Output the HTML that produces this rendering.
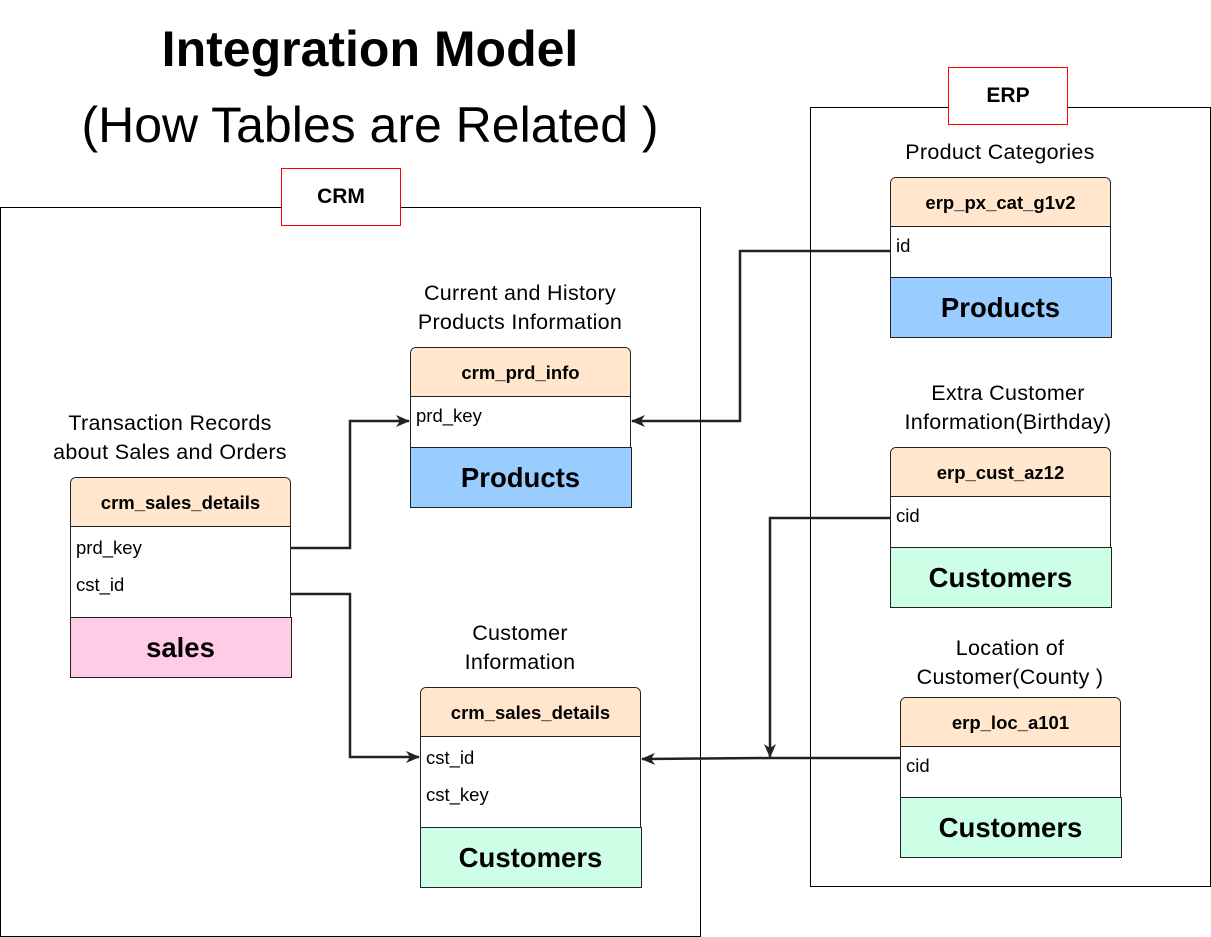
<!DOCTYPE html>
<html><head><meta charset="utf-8"><style>
body{margin:0;width:1211px;height:937px;background:#fff;position:relative;overflow:hidden;font-family:"Liberation Sans",Arial,sans-serif;color:#000}
.a{position:absolute;box-sizing:border-box}
.box{border:1px solid #000}
.lab{border:1px solid #f00;background:#fff;font-weight:bold;font-size:21px;display:flex;align-items:center;justify-content:center}
.cap{text-align:center;font-size:21.5px;line-height:29px;letter-spacing:0.3px}
.t{position:absolute;box-sizing:border-box;border:1.5px solid #222;border-radius:6px 6px 0 0;background:#fff}
.h{background:#ffe6cc;border-bottom:1.5px solid #222;font-weight:bold;font-size:18.5px;text-align:center;border-radius:5px 5px 0 0;box-sizing:border-box}
.f{position:absolute;left:-1.5px;right:-1.5px;bottom:-1.5px;border:1.5px solid #222;font-weight:bold;font-size:27.5px;text-align:center;box-sizing:border-box}
.r{font-size:18.5px;padding-left:5px;position:absolute}
</style></head><body>
<div class="a" style="left:0;top:20px;width:740px;text-align:center;font-weight:bold;font-size:50px">Integration Model</div>
<div class="a" style="left:0;top:96px;width:740px;text-align:center;font-size:50px">(How Tables are Related )</div>
<div class="a box" style="left:0;top:207px;width:701px;height:730px"></div>
<div class="a box" style="left:810px;top:107px;width:401px;height:780px"></div>
<div class="a lab" style="left:281px;top:168px;width:120px;height:58px">CRM</div>
<div class="a lab" style="left:948px;top:67px;width:120px;height:58px">ERP</div>

<div class="a cap" style="left:360px;top:279px;width:320px">Current and History<br>Products Information</div>
<div class="a cap" style="left:10px;top:409px;width:320px">Transaction Records<br>about Sales and Orders</div>
<div class="a cap" style="left:360px;top:619px;width:320px">Customer<br>Information</div>
<div class="a cap" style="left:840px;top:138px;width:320px">Product Categories</div>
<div class="a cap" style="left:840px;top:379px;width:336px">Extra Customer<br>Information(Birthday)</div>
<div class="a cap" style="left:850px;top:634px;width:320px">Location of<br>Customer(County )</div>

<div class="t" style="left:410px;top:347px;width:221px;height:160px"><div class="h" style="height:49px;line-height:49px">crm_prd_info</div><div class="r" style="top:57px">prd_key</div><div class="f" style="height:61px;line-height:60px;background:#99ccff">Products</div></div>
<div class="t" style="left:70px;top:477px;width:221px;height:200px"><div class="h" style="height:49px;line-height:49px">crm_sales_details</div><div class="r" style="top:59px">prd_key</div><div class="r" style="top:96px">cst_id</div><div class="f" style="height:61px;line-height:60px;background:#ffcce6">sales</div></div>
<div class="t" style="left:420px;top:687px;width:221px;height:200px"><div class="h" style="height:49px;line-height:49px">crm_sales_details</div><div class="r" style="top:59px">cst_id</div><div class="r" style="top:96px">cst_key</div><div class="f" style="height:61px;line-height:60px;background:#ccffe6">Customers</div></div>
<div class="t" style="left:890px;top:177px;width:221px;height:160px"><div class="h" style="height:49px;line-height:49px">erp_px_cat_g1v2</div><div class="r" style="top:57px">id</div><div class="f" style="height:61px;line-height:60px;background:#99ccff">Products</div></div>
<div class="t" style="left:890px;top:447px;width:221px;height:160px"><div class="h" style="height:49px;line-height:49px">erp_cust_az12</div><div class="r" style="top:57px">cid</div><div class="f" style="height:61px;line-height:60px;background:#ccffe6">Customers</div></div>
<div class="t" style="left:900px;top:697px;width:221px;height:160px"><div class="h" style="height:49px;line-height:49px">erp_loc_a101</div><div class="r" style="top:57px">cid</div><div class="f" style="height:61px;line-height:60px;background:#ccffe6">Customers</div></div>

<svg class="a" style="left:0;top:0" width="1211" height="937">
<defs><marker id="m" markerWidth="14" markerHeight="14" refX="13" refY="7" orient="auto" markerUnits="userSpaceOnUse"><path d="M0,1 L14,7 L0,13 L4,7 z" fill="#222"/></marker></defs>
<g fill="none" stroke="#222" stroke-width="2.5">
<polyline points="291,548 350,548 350,421 409,421" marker-end="url(#m)"/>
<polyline points="291,594 350,594 350,757 419,757" marker-end="url(#m)"/>
<polyline points="890,251 740,251 740,421 632,421" marker-end="url(#m)"/>
<polyline points="890,518 770,518 770,757" marker-end="url(#m)"/>
<polyline points="900,758 770,758 642,759" marker-end="url(#m)"/>
</g></svg>
</body></html>
